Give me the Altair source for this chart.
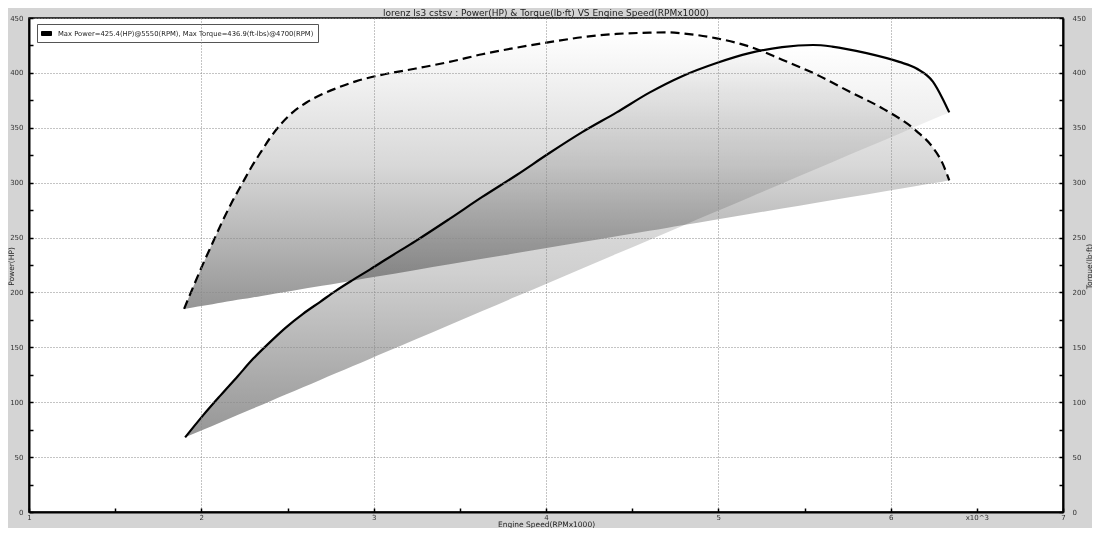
import altair as alt
import pandas as pd

# ---------------- data ----------------
torque_rpm = [1.90, 1.95, 2.01, 2.065, 2.12, 2.18, 2.24, 2.29, 2.35, 2.40, 2.46, 2.53,
              2.61, 2.70, 2.80, 2.90, 3.01, 3.245, 3.44, 3.63, 3.83, 4.02, 4.21, 4.41,
              4.60, 4.70, 4.79, 4.99, 5.18, 5.37, 5.57, 5.76, 5.96, 6.15, 6.245, 6.30, 6.34]
torque_lbft = [185, 204, 226, 245, 264, 283, 300, 314, 329, 341, 353, 364,
               373, 380.5, 387, 392.5, 397, 404, 410, 417, 423, 428, 432.5, 435.5,
               436.6, 436.9, 436, 431.5, 424, 412, 398.5, 383, 367, 347, 332, 318, 302]

power_rpm = [1.906, 2.01, 2.11, 2.21, 2.30, 2.40, 2.49, 2.59, 2.69, 2.78, 2.88, 2.98,
             3.07, 3.245, 3.44, 3.63, 3.83, 4.02, 4.21, 4.41, 4.60, 4.79, 4.99, 5.18,
             5.37, 5.55, 5.66, 5.86, 6.05, 6.15, 6.245, 6.30, 6.34]
power_hp = [68, 88, 106, 123.5, 139.5, 155, 168, 180.5, 191.5, 201.5, 211.5, 221,
            230, 247, 267, 287, 307, 327, 346, 364, 382, 397, 409, 418,
            423.5, 425.4, 424, 418, 410, 404, 392, 377, 364]

x_ticks = [1, 1.5, 2, 2.5, 3, 3.5, 4, 4.5, 5, 5.5, 6, 6.5, 7]
y_ticks = list(range(0, 451, 25))

title_text = "lorenz ls3 cstsv : Power(HP) & Torque(lb\u00b7ft) VS Engine Speed(RPMx1000)"
legend_text = "Max Power=425.4(HP)@5550(RPM), Max Torque=436.9(ft-lbs)@4700(RPM)"


def chord(xs, ys):
    x0, x1, y0, y1 = xs[0], xs[-1], ys[0], ys[-1]
    return [y0 + (x - x0) * (y1 - y0) / (x1 - x0) for x in xs]


pdf = pd.DataFrame({"rpm": power_rpm, "power": power_hp,
                    "pbase": chord(power_rpm, power_hp), "label": legend_text})
tdf = pd.DataFrame({"rpm": torque_rpm, "torque": torque_lbft,
                    "tbase": chord(torque_rpm, torque_lbft)})

FONT = "DejaVu Sans"
inward = alt.ExprRef("-4")
PLOT_H = 494

x_axis = alt.Axis(
    values=x_ticks,
    labelExpr="datum.value == 6.5 ? 'x10^3' : (datum.value % 1 == 0 ? '' + datum.value : '')",
    title="Engine Speed(RPMx1000)", titleFontSize=7.5, titleFontWeight="normal",
    titleColor="#222", titlePadding=0, titleFont=FONT,
    labelFontSize=7, labelColor="#333", labelFont=FONT, labelPadding=5,
    labelFlush=False, labelOverlap=False,
    tickSize=inward, tickColor="black", tickWidth=1.5,
    grid=True, gridColor="#888", gridDash=[1, 2], gridWidth=1,
    gridOpacity={"condition": {"test": "datum.value % 1 === 0", "value": 1}, "value": 0},
    domainColor="black", domainWidth=2, zindex=1,
)

p_axis = alt.Axis(
    values=y_ticks, orient="left",
    labelExpr="datum.value % 50 === 0 ? '' + datum.value : ''",
    title="Power(HP)", titleAngle=270, titleX=-18, titleY=248, titleAlign="center",
    titleBaseline="middle", titleFontSize=7.5, titleFontWeight="normal",
    titleColor="#222", titleFont=FONT,
    labelFontSize=7, labelColor="#333", labelFont=FONT, labelPadding=10,
    labelFlush=False, labelOverlap=False,
    tickSize=inward, tickColor="black", tickWidth=1.5,
    grid=True, gridColor="#888", gridDash=[1, 2], gridWidth=1,
    gridOpacity={"condition": {"test": "datum.value % 50 === 0", "value": 1}, "value": 0},
    domainColor="black", domainWidth=2, zindex=1,
)

t_axis = alt.Axis(
    values=y_ticks, orient="right",
    labelExpr="datum.value % 50 === 0 ? '' + datum.value : ''",
    title="Torque(lb\u00b7ft)", titleAngle=270, titleX=26, titleY=248, titleAlign="center",
    titleBaseline="middle", titleFontSize=7.5, titleFontWeight="normal",
    titleColor="#222", titleFont=FONT,
    labelFontSize=7, labelColor="#333", labelFont=FONT, labelPadding=13,
    labelFlush=False, labelOverlap=False,
    tickSize=inward, tickColor="black", tickWidth=1.5,
    grid=False, domainColor="black", domainWidth=2, zindex=1,
)

x_enc = alt.X("rpm:Q", scale=alt.Scale(domain=[1, 7], nice=False, zero=False), axis=x_axis)
yscale = alt.Scale(domain=[0, 450], nice=False, zero=True)

p_grad = alt.Gradient(
    gradient="linear", x1=0, x2=0, y1=0, y2=1,
    stops=[alt.GradientStop(color="#ffffff", offset=0),
           alt.GradientStop(color="#f4f4f4", offset=0.12),
           alt.GradientStop(color="#d0d0d0", offset=0.58),
           alt.GradientStop(color="#aaaaaa", offset=0.85),
           alt.GradientStop(color="#969696", offset=1)])
t_grad = alt.Gradient(
    gradient="linear", x1=0, x2=0, y1=0, y2=1,
    stops=[alt.GradientStop(color="#ffffff", offset=0),
           alt.GradientStop(color="#ebebeb", offset=0.25),
           alt.GradientStop(color="#d8d8d8", offset=0.48),
           alt.GradientStop(color="#b0b0b0", offset=0.79),
           alt.GradientStop(color="#959595", offset=1)])

p_y = alt.Y("power:Q", scale=yscale, axis=p_axis)
t_y = alt.Y("torque:Q", scale=yscale, axis=t_axis)

p_area = alt.Chart(pdf).mark_area(color=p_grad, interpolate="monotone", blend="multiply").encode(
    x=x_enc, y=p_y, y2="pbase:Q")
p_line = alt.Chart(pdf).mark_line(strokeWidth=2.2, interpolate="monotone").encode(
    x=x_enc, y=p_y,
    color=alt.Color("label:N", scale=alt.Scale(range=["black"]),
                    legend=alt.Legend(
                        title=None, orient="none", legendX=8, legendY=6,
                        fillColor="white", strokeColor="#555", padding=4, cornerRadius=0,
                        symbolType="M-1,-0.4L1,-0.4L1,0.4L-1,0.4Z", symbolSize=100,
                        symbolFillColor="black", symbolStrokeColor="black",
                        symbolStrokeWidth=1, labelFontSize=6.8, labelLimit=600,
                        labelColor="#222", labelFont=FONT, labelOffset=6)))

t_area = alt.Chart(tdf).mark_area(color=t_grad, interpolate="monotone", blend="multiply").encode(
    x=x_enc, y=t_y, y2="tbase:Q")
t_line = alt.Chart(tdf).mark_line(color="black", strokeWidth=2.2, strokeDash=[9, 5],
                                  interpolate="monotone").encode(x=x_enc, y=t_y)

power_layer = alt.layer(p_area, p_line)
torque_layer = alt.layer(t_area, t_line)

chart = (
    alt.layer(power_layer, torque_layer)
    .resolve_scale(y="independent")
    .properties(
        width=1034, height=PLOT_H,
        padding={"left": 21, "top": 10, "right": 29, "bottom": 16},
        autosize=alt.AutoSizeParams(type="none"),
        background="#d4d4d4",
        view=alt.ViewBackground(fill="white", stroke="black", strokeWidth=1.5),
        title=alt.TitleParams(title_text, fontSize=9, fontWeight="normal", color="#222",
                              font=FONT, anchor="middle", offset=1, dy=5,
                              frame="group"),
    )
    .configure_view(fill="white", stroke="black", strokeWidth=1.5)
    .configure(font=FONT)
)

chart.save("out.html", embed_options={"renderer": "svg", "actions": False})
